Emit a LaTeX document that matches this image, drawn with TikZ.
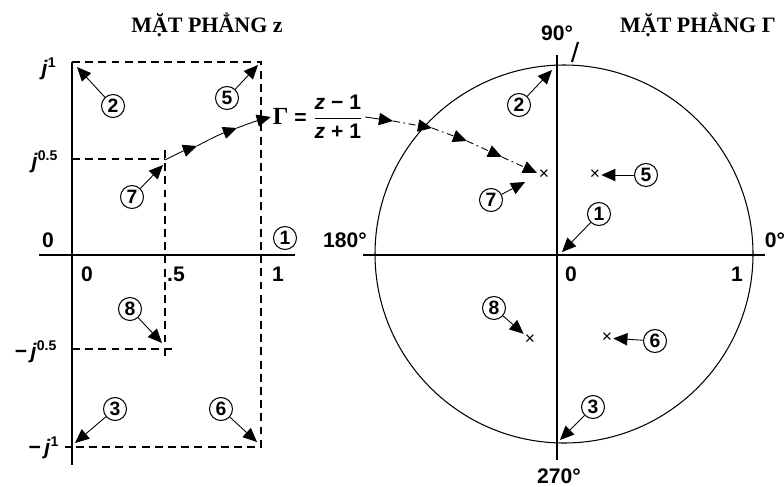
\documentclass[tikz,border=0pt]{standalone}
\usepackage{amsmath}
\usepackage{fontspec}
\setmainfont{Liberation Sans}
\newfontfamily\titlefont{Liberation Serif}
\usetikzlibrary{arrows.meta,positioning,calc}

\begin{document}
\begin{tikzpicture}[
  axis/.style={line width=0.6pt},
  guide/.style={line width=0.6pt, dash pattern=on 4.5pt off 3pt},
  lbl/.style={font=\fontsize{12}{14}\selectfont\bfseries},
  num/.style={draw, circle, inner sep=0pt, minimum size=0.46cm, line width=0.6pt, font=\fontsize{11}{13}\selectfont\bfseries},
  ptr/.style={-{Triangle[length=8pt,width=7pt]}, line width=0.5pt},
  mapptr/.style={ptr, dash pattern=on 4pt off 2pt on 1pt off 2pt},
  cross/.style={inner sep=0.5pt, font=\fontsize{10}{12}\selectfont},
  title/.style={font=\fontsize{12.5}{14}\selectfont\titlefont\bfseries}
]
\useasboundingbox (-1.44,-4.62) rectangle (14.24,5.1);
% z plane
\node[title] (ztitle) at (2.7,4.6) {MẶT PHẲNG z};
\draw[axis] (0,3.86) -- (0,-4.2);
\draw[axis] (-0.66,0) -- (4.46,0);
\draw[guide] (0,3.86) -- (3.78,3.86) -- (3.78,-3.84) -- (-0.14,-3.84);
\draw[guide] (0,1.92) -- (1.86,1.92);
\draw[guide] (1.86,2.1) -- (1.86,-2.02);
\draw[guide] (0,-1.88) -- (2.04,-1.88);
\node[lbl] (zj1) at (-0.46,3.72) {\textit{j}\textsuperscript{1}};
\node[lbl] (zjh) at (-0.54,1.86) {\textit{j}\textsuperscript{0.5}};
\node[lbl] (zo) at (-0.48,0.3) {0};
\node[lbl] (zmjh) at (-0.72,-1.94) {−\,\textit{j}\textsuperscript{0.5}};
\node[lbl] (zmj1) at (-0.56,-3.86) {−\,\textit{j}\textsuperscript{1}};
\node[lbl] (zx0) at (0.3,-0.38) {0};
\node[lbl] (zxh) at (2.08,-0.38) {.5};
\node[lbl] (zx1) at (4.12,-0.38) {1};
\node[num] (z1) at (4.26,0.34) {1};
\node[num] (z2) at (0.82,2.98) {2};
\node[num] (z5) at (3.1,3.14) {5};
\node[num] (z7) at (1.2,1.16) {7};
\node[num] (z8) at (1.16,-1.08) {8};
\node[num] (z3) at (0.86,-3.08) {3};
\node[num] (z6) at (2.98,-3.08) {6};
\coordinate (zc2) at (0.1,3.76);
\coordinate (zc5) at (3.72,3.8);
\coordinate (zc7) at (1.82,1.8);
\coordinate (zc8) at (1.8,-1.76);
\coordinate (zc3) at (0.06,-3.76);
\coordinate (zc6) at (3.7,-3.74);
\draw[ptr] (z2) -- (zc2);
\draw[ptr] (z5) -- (zc5);
\draw[ptr] (z7) -- (zc7);
\draw[ptr] (z8) -- (zc8);
\draw[ptr] (z3) -- (zc3);
\draw[ptr] (z6) -- (zc6);
% mapping
\node[lbl, inner sep=1pt] (gmap) at (4.92,2.76)
  {$\text{\titlefont\fontsize{14}{16}\selectfont Γ}\text{ = }\dfrac{\text{\textit{z} − 1}}{\text{\textit{z} + 1}}$};
\coordinate (zp0) at (1.86,1.9);
\coordinate (zp1) at (2.5,2.18);
\coordinate (zp2) at (3.3,2.54);
\draw[ptr] (zp0) to[bend left=4] (zp1);
\draw[ptr] (zp1) to[bend left=4] (zp2);
\draw[ptr] (zp2) to[bend left=3] (gmap.west);
% Gamma plane
\node[title] (gtitle) at (12.52,4.6) {MẶT PHẲNG Γ};
\draw[axis] (9.84,0.02) circle[radius=3.78];
\draw[axis] (9.7,4.0) -- (9.7,-4.1);
\draw[axis] (5.82,0) -- (13.86,0);
\draw[line width=1.2pt] (10.12,4.26) -- (10.0,3.86);
\node[lbl] (g90) at (9.7,4.44) {90°};
\node[lbl] (g180) at (5.46,0.3) {180°};
\node[lbl] (g0d) at (14.06,0.3) {0°};
\node[lbl] (g270) at (9.74,-4.42) {270°};
\node[lbl] (gx0) at (9.98,-0.38) {0};
\node[lbl] (gx1) at (13.3,-0.38) {1};
\node[num] (g1) at (10.54,0.82) {1};
\node[num] (g2) at (8.94,3.0) {2};
\node[num] (g5) at (11.48,1.6) {5};
\node[num] (g7) at (8.38,1.1) {7};
\node[num] (g8) at (8.44,-1.06) {8};
\node[num] (g6) at (11.66,-1.72) {6};
\node[num] (g3) at (10.42,-3.04) {3};
\node[cross] (x5) at (10.46,1.6) {×};
\node[cross] (x7) at (9.44,1.6) {×};
\node[cross] (x8) at (9.16,-1.7) {×};
\node[cross] (x6) at (10.7,-1.66) {×};
\coordinate (gc2) at (9.6,3.7);
\coordinate (gc7) at (9.06,1.46);
\coordinate (gc1) at (9.8,0.06);
\coordinate (gc3) at (9.76,-3.7);
\draw[ptr] (g2) -- (gc2);
\draw[ptr] (g5) -- (x5);
\draw[ptr] (g7) -- (gc7);
\draw[ptr] (g1) -- (gc1);
\draw[ptr] (g8) -- (x8.north west);
\draw[ptr] (g6) -- (x6);
\draw[ptr] (g3) -- (gc3);
\coordinate (gp1) at (6.42,2.68);
\coordinate (gp2) at (7.2,2.54);
\coordinate (gp3) at (7.9,2.28);
\coordinate (gp4) at (8.6,1.96);
\coordinate (gp5) at (9.3,1.64);
\draw[ptr] (gmap.east) -- (gp1);
\draw[mapptr] (gp1) -- (gp2);
\draw[mapptr] (gp2) -- (gp3);
\draw[mapptr] (gp3) -- (gp4);
\draw[mapptr] (gp4) -- (gp5);
\end{tikzpicture}
\end{document}
